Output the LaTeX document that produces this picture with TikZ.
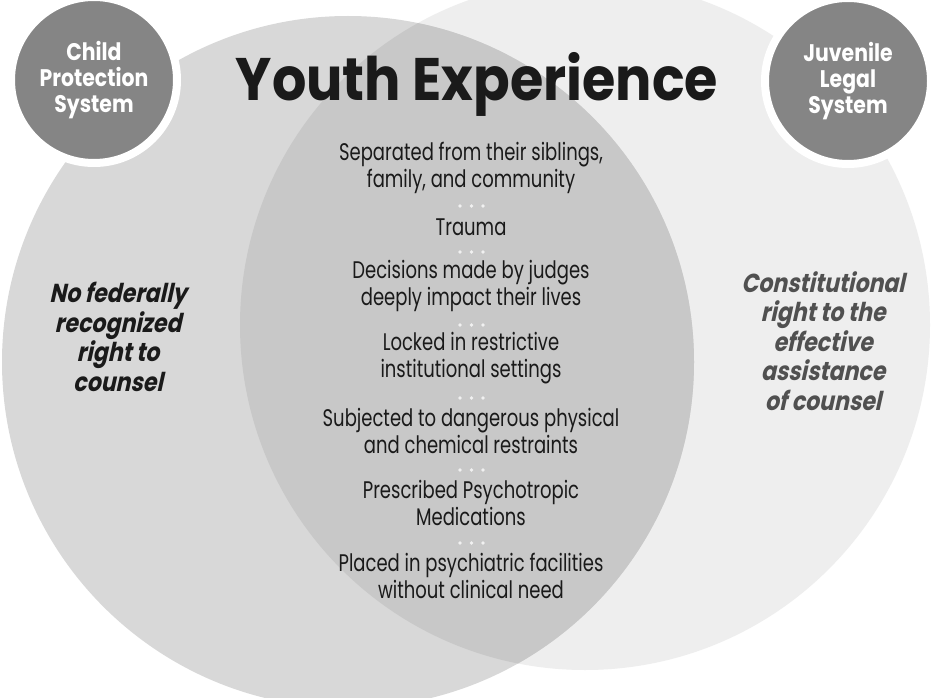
\documentclass[tikz,border=0pt]{standalone}
\usepackage{fontspec}
\setmainfont{Poppins}
\newfontfamily\titlefont[FakeStretch=0.9]{Poppins}
\newfontfamily\bodyfont[FakeStretch=0.75]{Poppins}
\newfontfamily\sidefont[FakeSlant=0.22,FakeStretch=0.85]{Poppins}
\newfontfamily\badgefont[FakeStretch=0.85]{Poppins}
\definecolor{rightgray}{HTML}{EEEEEE}
\definecolor{leftgray}{HTML}{D8D8D8}
\definecolor{lensgray}{HTML}{C8C8C8}
\definecolor{badgegray}{HTML}{858585}
\definecolor{inkdark}{HTML}{1A1A1A}
\definecolor{inkmid}{HTML}{505050}
\tikzset{
  badge/.style={circle, fill=badgegray, draw=white, line width=8pt, minimum size=166pt, inner sep=0pt, align=center, text=white, font=\badgefont\bfseries\fontsize{24}{26}\selectfont},
  item/.style={align=center, text=inkdark, inner sep=0pt, font=\bodyfont\fontsize{24}{27}\selectfont},
  sidetext/.style={align=center, inner sep=0pt, font=\sidefont\bfseries\fontsize{26}{29.5}\selectfont},
  sepdot/.style={circle, fill=white, fill opacity=0.75, inner sep=0pt, minimum size=3.8pt}
}
\begin{document}
\begin{tikzpicture}[x=1pt,y=-1pt]
\useasboundingbox (0,0) rectangle (932,698);
\fill[white] (0,0) rectangle (932,698);
% big circles
\fill[rightgray] (585,325) circle[radius=345pt];
\fill[leftgray] (348,362) circle[radius=346pt];
\begin{scope}
  \clip (585,325) circle[radius=345pt];
  \fill[lensgray] (348,362) circle[radius=346pt];
\end{scope}
% badges
\node[badge] (cps) at (94,80) {Child\\Protection\\System};
\node[badge] (jls) at (848,81) {Juvenile\\Legal\\System};
% title
\node[inkdark, inner sep=0pt, anchor=base, font=\titlefont\bfseries\fontsize{60}{66}\selectfont] (title) at (477,101) {Youth Experience};
% items
\node[item] (i1) at (471,168) {Separated from their siblings,\\family, and community};
\node[item] (i2) at (471,227) {Trauma};
\node[item] (i3) at (471,286) {Decisions made by judges\\deeply impact their lives};
\node[item] (i4) at (471,358) {Locked in restrictive\\institutional settings};
\node[item] (i5) at (471,431) {Subjected to dangerous physical\\and chemical restraints};
\node[item] (i6) at (471,503) {Prescribed Psychotropic\\Medications};
\node[item] (i7) at (471,576) {Placed in psychiatric facilities\\without clinical need};
% separators
\foreach \y/\n in {206/a,252/b,325/c,398/d,470/e,543/f}{
  \node[sepdot] (s\n1) at (460,\y) {};
  \node[sepdot] (s\n2) at (471.5,\y) {};
  \node[sepdot] (s\n3) at (483,\y) {};
}
% side texts
\node[sidetext, text=inkdark] (left) at (118,337) {No federally\\recognized\\right to\\counsel};
\node[sidetext, text=inkmid] (right) at (823,341) {Constitutional\\right to the\\effective\\assistance\\of counsel};
\end{tikzpicture}
\end{document}
